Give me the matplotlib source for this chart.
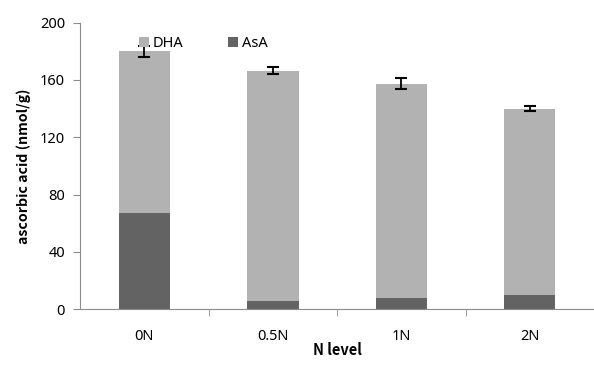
import matplotlib.pyplot as plt
import numpy as np

plt.rcParams['font.family'] = ['Noto Sans', 'DejaVu Sans']

# values
levels = ['0N', '0.5N', '1N', '2N']
asa = [67, 6, 8, 10]
total = [180, 166.5, 157.5, 140]
err = [4, 2.3, 4, 2]
dha = [t - a for t, a in zip(total, asa)]

light = '#b2b2b2'
dark = '#636363'
axcol = '#8c8c8c'

fig = plt.figure(figsize=(5.94, 3.65), dpi=100)
ax = fig.add_axes([0.135, 0.153, 0.865, 0.785])

x = np.arange(len(levels))
width = 0.4
ax.bar(x, asa, width=width, color=dark, label='AsA')
ax.bar(x, dha, width=width, bottom=asa, color=light, label='DHA')
ax.errorbar(x, total, yerr=err, fmt='none', ecolor='black', elinewidth=1.3,
            capsize=4, capthick=1.5)

ax.set_xlim(-0.5, 3.5)
ax.set_ylim(0, 200)
ax.set_yticks([0, 40, 80, 120, 160, 200])
ax.set_xticks(x)
ax.set_xticklabels(levels)
ax.set_xticks(np.arange(0.5, 3.5, 1), minor=True)
ax.tick_params(axis='x', which='major', length=0, pad=14, labelsize=10.5)
ax.tick_params(axis='x', which='minor', length=5, color=axcol, direction='out')
ax.tick_params(axis='y', length=5, color=axcol, labelsize=10.5, pad=6)

for s in ['top', 'right']:
    ax.spines[s].set_visible(False)
for s in ['left', 'bottom']:
    ax.spines[s].set_color(axcol)

# bold labels from the CJK family, which has a bold face
bold = ['Noto Sans CJK KR', 'DejaVu Sans']
ax.set_ylabel('ascorbic acid (nmol/g)', fontsize=10.2, fontweight='bold',
              family=bold, labelpad=6)
ax.set_xlabel('N level', fontsize=10.5, fontweight='bold', family=bold,
              labelpad=-1)

h, l = ax.get_legend_handles_labels()
ax.legend(h[::-1], l[::-1], ncol=2, frameon=False, loc='upper left',
          bbox_to_anchor=(0.088, 1.0), fontsize=10.5, handlelength=0.7,
          handleheight=0.7, handletextpad=0.3, columnspacing=3.0)

fig.savefig('out.png', dpi=100)
